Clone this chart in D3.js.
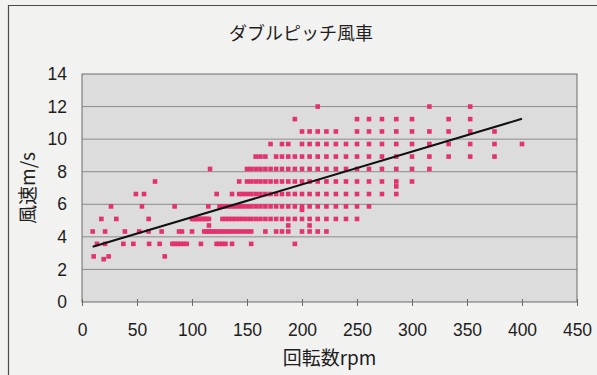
<!DOCTYPE html>
<html>
<head>
<meta charset="utf-8">
<script src="https://cdn.jsdelivr.net/npm/d3@7"></script>
<style>
  html, body { margin: 0; padding: 0; background: #f2f2f0; }
  svg { display: block; }
</style>
</head>
<body>
<svg id="chart" width="597" height="375"></svg>
<script>
// ダブルピッチ風車: rotor speed (rpm) against wind speed (m/s)
const chartTitle = "ダブルピッチ風車";
const xTitle = "回転数rpm";
const yTitle = "風速m/s";

const xTicks = [0, 50, 100, 150, 200, 250, 300, 350, 400, 450];
const yTicks = [0, 2, 4, 6, 8, 10, 12, 14];

// Wind speed readings come in fixed steps; each step lists the rpm values seen at it.
const speedLevels = [12.0, 11.23, 10.47, 9.7, 8.93, 8.17, 7.4, 6.63, 5.87, 5.1, 4.33, 3.57, 2.8];
const rpmAtSpeed = [
  [214.3, 315.8, 352.9],
  [193.5, 250, 260.9, 272.7, 285.7, 300, 333.3, 352.9],
  [200, 206.9, 214.3, 222.2, 230.8, 250, 260.9, 272.7, 285.7, 300, 315.8, 333.3, 352.9, 375],
  [171.4, 181.8, 187.5, 200, 206.9, 214.3, 222.2, 230.8, 240, 250, 260.9, 272.7, 285.7, 300, 315.8, 333.3, 352.9, 375, 400],
  [157.9, 162.2, 166.7, 176.5, 181.8, 187.5, 193.5, 200, 206.9, 214.3, 222.2, 230.8, 240, 250, 260.9, 272.7, 285.7, 300, 315.8, 333.3, 352.9, 375],
  [116.4, 150, 153.8, 157.9, 162.2, 166.7, 171.4, 176.5, 181.8, 187.5, 193.5, 200, 206.9, 214.3, 222.2, 230.8, 240, 250, 260.9, 272.7, 285.7, 300, 315.8],
  [66.4, 142.9, 150, 153.8, 157.9, 162.2, 166.7, 171.4, 176.5, 181.8, 187.5, 193.5, 200, 206.9, 214.3, 222.2, 230.8, 240, 250, 260.9, 272.7, 285.7, 300],
  [49, 56.4, 122.4, 136.4, 142.9, 146.3, 150, 153.8, 157.9, 162.2, 166.7, 171.4, 176.5, 181.8, 187.5, 193.5, 200, 206.9, 214.3, 222.2, 230.8, 240, 250, 260.9, 272.7, 285.7],
  [26.4, 54.5, 84.2, 114.8, 125, 127.7, 130.4, 133.3, 136.4, 139.5, 142.9, 146.3, 150, 153.8, 157.9, 162.2, 166.7, 171.4, 176.5, 181.8, 187.5, 193.5, 200, 206.9, 214.3, 222.2, 230.8, 240, 250, 260.9],
  [17.6, 31.2, 60.6, 100, 101.7, 103.4, 105.3, 107.1, 109.1, 111.1, 113.2, 115.4, 127.7, 130.4, 133.3, 136.4, 139.5, 142.9, 146.3, 150, 153.8, 157.9, 162.2, 166.7, 171.4, 176.5, 181.8, 187.5, 193.5, 200, 206.9, 214.3, 222.2, 230.8, 240, 250],
  [9.7, 21, 39, 52, 60.5, 72.4, 88.2, 90.9, 100, 111.1, 113.2, 115.4, 117.6, 120, 122.4, 125, 127.7, 130.4, 133.3, 136.4, 139.5, 142.9, 146.3, 150, 153.8, 166.7, 176.5, 181.8, 187.5, 200, 206.9, 214.3, 222.2],
  [13.6, 21, 37.6, 46.7, 61, 70.6, 82.2, 84.5, 87, 89.6, 92.3, 95.2, 108.1, 122.4, 125, 127.7, 130.4, 136.4, 153.8, 193.5],
  [10.6, 24.2, 75.2]
];
// Readings that sit between the usual steps
const extraRpm   = [19.7, 285.7, 200, 115.4, 187.5, 206.9];
const extraSpeed = [2.63, 7.1, 5.66, 4.7, 4.7, 4.7];

// Linear trend line end points
const trendRpm   = [9.7, 400];
const trendSpeed = [3.39, 11.25];

const points = [];
speedLevels.forEach((s, i) => rpmAtSpeed[i].forEach(r => points.push({ rpm: r, speed: s })));
extraRpm.forEach((r, i) => points.push({ rpm: r, speed: extraSpeed[i] }));

const svg = d3.select("#chart");
const plot = { left: 82, right: 577, top: 74, bottom: 302 };

const x = d3.scaleLinear().domain([0, 450]).range([plot.left, plot.right]);
const y = d3.scaleLinear().domain([0, 14]).range([plot.bottom, plot.top]);

const numFont = "'Liberation Sans', Arial, sans-serif";
const jpFont = "'Noto Sans CJK JP', 'Noto Sans', sans-serif";
const ink = "#1e1e1e";

// Chart frame
svg.append("line").attr("x1", 8.5).attr("x2", 8.5).attr("y1", 5).attr("y2", 375)
  .attr("stroke", "#4a4a4a").attr("stroke-width", 1.2);
svg.append("line").attr("x1", 8).attr("x2", 597).attr("y1", 5.5).attr("y2", 5.5)
  .attr("stroke", "#4a4a4a").attr("stroke-width", 1.2);

// Plot area
svg.append("rect")
  .attr("x", plot.left).attr("y", plot.top)
  .attr("width", plot.right - plot.left).attr("height", plot.bottom - plot.top)
  .attr("fill", "#dcdcdc");

// Horizontal gridlines
svg.append("g").selectAll("line")
  .data(yTicks.filter(t => t > 0 && t < 14))
  .join("line")
  .attr("x1", plot.left).attr("x2", plot.right)
  .attr("y1", d => y(d)).attr("y2", d => y(d))
  .attr("stroke", "#8c8c8c").attr("stroke-width", 1);

// Plot border
svg.append("rect")
  .attr("x", plot.left).attr("y", plot.top)
  .attr("width", plot.right - plot.left).attr("height", plot.bottom - plot.top)
  .attr("fill", "none").attr("stroke", "#6a6a6a").attr("stroke-width", 1);

// X axis
const xAxis = svg.append("g")
  .attr("transform", `translate(0,${plot.bottom})`)
  .call(d3.axisBottom(x).tickValues(xTicks).tickSize(4).tickPadding(18).tickFormat(d3.format("d")));
xAxis.select(".domain").remove();
xAxis.selectAll(".tick line").attr("stroke", "#6a6a6a").attr("y1", -3);
xAxis.selectAll(".tick text")
  .attr("fill", ink).style("font-family", numFont).style("font-size", "17.5px");

// Y axis
const yAxis = svg.append("g")
  .attr("transform", `translate(${plot.left},0)`)
  .call(d3.axisLeft(y).tickValues(yTicks).tickSize(0).tickPadding(15).tickFormat(d3.format("d")));
yAxis.select(".domain").remove();
yAxis.selectAll(".tick text")
  .attr("fill", ink).style("font-family", numFont).style("font-size", "17.5px");

// Scatter markers
const m = 4.6;
svg.append("g").selectAll("rect")
  .data(points)
  .join("rect")
  .attr("x", d => x(d.rpm) - m / 2)
  .attr("y", d => y(d.speed) - m / 2)
  .attr("width", m).attr("height", m)
  .attr("fill", "#e3326f");

// Trend line
svg.append("path")
  .datum(trendRpm.map((r, i) => ({ rpm: r, speed: trendSpeed[i] })))
  .attr("d", d3.line().x(d => x(d.rpm)).y(d => y(d.speed)))
  .attr("fill", "none").attr("stroke", "#111").attr("stroke-width", 2);

// Titles
svg.append("text")
  .attr("x", 301).attr("y", 40)
  .attr("text-anchor", "middle")
  .style("font-family", jpFont).style("font-size", "18px")
  .attr("fill", ink).text(chartTitle);

svg.append("text")
  .attr("x", (plot.left + plot.right) / 2).attr("y", 365)
  .attr("text-anchor", "middle")
  .style("font-family", jpFont).style("font-size", "19px")
  .attr("fill", ink).text(xTitle);

svg.append("text")
  .attr("transform", `translate(35,${(plot.top + plot.bottom) / 2}) rotate(-90)`)
  .attr("text-anchor", "middle")
  .style("font-family", jpFont).style("font-size", "19px")
  .attr("fill", ink).text(yTitle);
</script>
</body>
</html>
